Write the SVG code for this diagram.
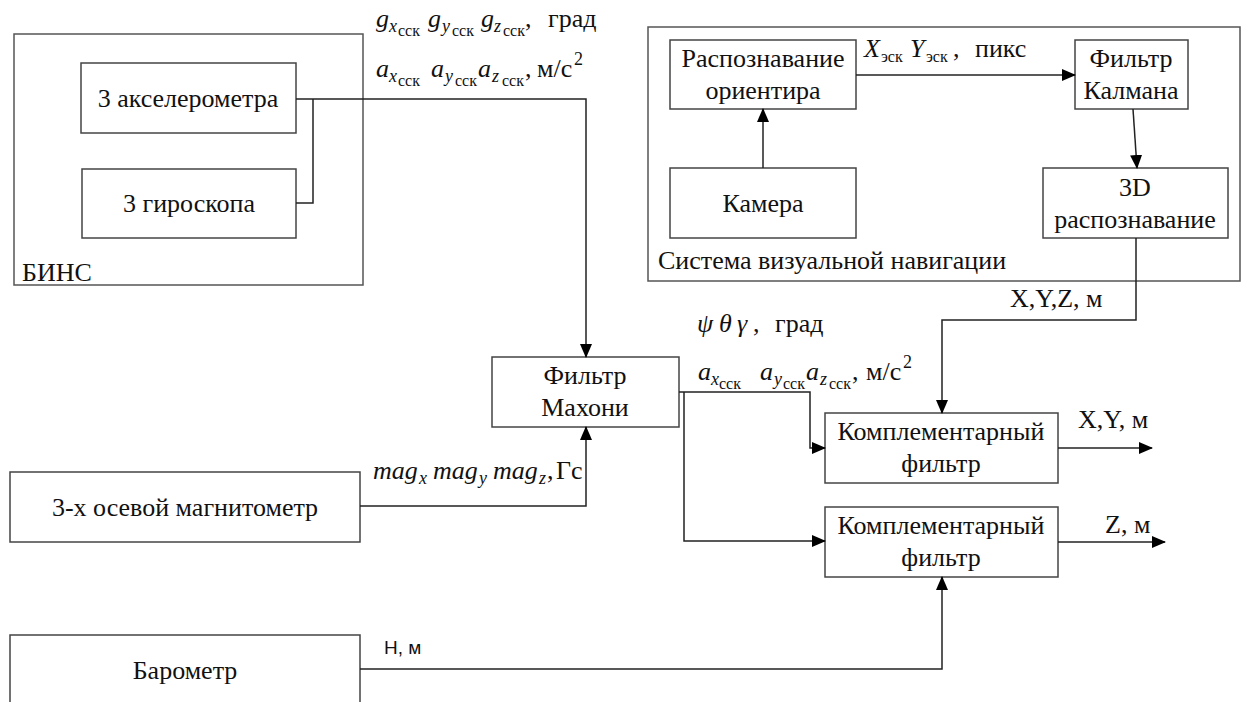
<svg xmlns="http://www.w3.org/2000/svg" width="1248" height="702" viewBox="0 0 1248 702">
<style>
.box{fill:#fff;stroke:#444;stroke-width:1.5}
.frame{fill:none;stroke:#555;stroke-width:1.5}
.t{font-size:26px;fill:#111;text-anchor:middle}
.tl{font-size:26px;fill:#111}
.m{font-size:26px;fill:#111;font-style:italic}
.s1{font-size:18px}
.s2{font-size:16px;font-style:normal}
.u{font-style:normal}
.c{fill:none;stroke:#222;stroke-width:1.5}
.h{font-size:19px;fill:#111}
</style>
<defs>
<marker id="ar" markerWidth="14" markerHeight="12" refX="13" refY="6" orient="auto" markerUnits="userSpaceOnUse">
<path d="M0,0 L14,6 L0,12 Z" fill="#000"/>
</marker>
</defs>

<g font-family="Liberation Serif, serif">
<g id="bins">
<rect class="frame" x="14" y="34" width="349" height="251"/>
<text class="tl" x="22" y="281">БИНС</text>
</g>
<g id="accel">
<rect class="box" x="81" y="63" width="215" height="70"/>
<text class="t" x="188" y="107">3 акселерометра</text>
</g>
<g id="gyro">
<rect class="box" x="82" y="169" width="214" height="69"/>
<text class="t" x="189" y="212">3 гироскопа</text>
</g>

<g id="vns">
<rect class="frame" x="648" y="27" width="592" height="254"/>
<text class="tl" x="658" y="269">Система визуальной навигации</text>
</g>
<g id="recog">
<rect class="box" x="670" y="40" width="186" height="69"/>
<text class="t" x="763" y="67">Распознавание</text>
<text class="t" x="763" y="99">ориентира</text>
</g>
<g id="kalman">
<rect class="box" x="1075" y="40" width="113" height="69"/>
<text class="t" x="1131" y="67">Фильтр</text>
<text class="t" x="1131" y="99">Калмана</text>
</g>
<g id="camera">
<rect class="box" x="670" y="168" width="186" height="70"/>
<text class="t" x="763" y="212">Камера</text>
</g>
<g id="rec3d">
<rect class="box" x="1043" y="168" width="185" height="70"/>
<text class="t" x="1135" y="196">3D</text>
<text class="t" x="1135" y="228">распознавание</text>
</g>

<g id="mahony">
<rect class="box" x="492" y="357" width="187" height="70"/>
<text class="t" x="585" y="384">Фильтр</text>
<text class="t" x="585" y="416">Махони</text>
</g>
<g id="mag">
<rect class="box" x="10" y="472" width="350" height="70"/>
<text class="t" x="185" y="516">3-х осевой магнитометр</text>
</g>
<g id="baro">
<rect class="box" x="10" y="635" width="350" height="100"/>
<text class="t" x="185" y="679">Барометр</text>
</g>
<g id="comp1">
<rect class="box" x="825" y="413" width="233" height="70"/>
<text class="t" x="941" y="440">Комплементарный</text>
<text class="t" x="941" y="472">фильтр</text>
</g>
<g id="comp2">
<rect class="box" x="825" y="507" width="233" height="70"/>
<text class="t" x="941" y="534">Комплементарный</text>
<text class="t" x="941" y="566">фильтр</text>
</g>
</g>

<g id="connectors">
<path class="c" d="M296,99 H586 V357" marker-end="url(#ar)"/>
<path class="c" d="M296,203 H313 V99"/>
<path class="c" d="M360,506 H586 V427" marker-end="url(#ar)"/>
<path class="c" d="M679,392 H810 V448 H825" marker-end="url(#ar)"/>
<path class="c" d="M684,392 V541 H825" marker-end="url(#ar)"/>
<path class="c" d="M360,669 H942 V577" marker-end="url(#ar)"/>
<path class="c" d="M1136,238 V320 H942 V413" marker-end="url(#ar)"/>
<path class="c" d="M1058,448 H1152" marker-end="url(#ar)"/>
<path class="c" d="M1058,542 H1165" marker-end="url(#ar)"/>
<path class="c" d="M763,168 V109" marker-end="url(#ar)"/>
<path class="c" d="M856,75 H1075" marker-end="url(#ar)"/>
<path class="c" d="M1133,109 L1137,168" marker-end="url(#ar)"/>
</g>

<g id="labels" font-family="Liberation Serif, serif">
<text class="m" y="27"><tspan x="376">g</tspan><tspan class="s1" x="389" y="32">x</tspan><tspan class="s2" x="398" y="36">сск</tspan><tspan x="428" y="27">g</tspan><tspan class="s1" x="442" y="32">y</tspan><tspan class="s2" x="452" y="36">сск</tspan><tspan x="481" y="27">g</tspan><tspan class="s1" x="494" y="32">z</tspan><tspan class="s2" x="503" y="36">сск</tspan><tspan class="u" x="525" y="27">,</tspan><tspan class="u" x="548">град</tspan></text>
<text class="m" y="77"><tspan x="376">a</tspan><tspan class="s1" x="389" y="82">x</tspan><tspan class="s2" x="398" y="86">сск</tspan><tspan x="431" y="77">a</tspan><tspan class="s1" x="445" y="82">y</tspan><tspan class="s2" x="455" y="86">сск</tspan><tspan x="478" y="77">a</tspan><tspan class="s1" x="492" y="82">z</tspan><tspan class="s2" x="502" y="86">сск</tspan><tspan class="u" x="525" y="77">,</tspan><tspan class="u" x="537">м/с</tspan><tspan class="u" font-size="18" x="574" y="65">2</tspan></text>
<text class="m" y="57"><tspan x="864">X</tspan><tspan class="s2" x="881" y="62">эск</tspan><tspan x="910" y="57">Y</tspan><tspan class="s2" x="926" y="62">эск</tspan><tspan class="u" x="953" y="57">,</tspan><tspan class="u" x="975">пикс</tspan></text>
<text class="m" y="332"><tspan x="697">ψ</tspan><tspan x="719">θ</tspan><tspan x="737">γ</tspan><tspan class="u" x="753">,</tspan><tspan class="u" x="775">град</tspan></text>
<text class="m" y="380"><tspan x="698">a</tspan><tspan class="s1" x="711" y="385">x</tspan><tspan class="s2" x="719" y="389">сск</tspan><tspan x="760" y="380">a</tspan><tspan class="s1" x="774" y="385">y</tspan><tspan class="s2" x="783" y="389">сск</tspan><tspan x="806" y="380">a</tspan><tspan class="s1" x="820" y="385">z</tspan><tspan class="s2" x="829" y="389">сск</tspan><tspan class="u" x="852" y="380">,</tspan><tspan class="u" x="866">м/с</tspan><tspan class="u" font-size="18" x="903" y="368">2</tspan></text>
<text class="m" y="479" font-size="24"><tspan x="373">mag</tspan><tspan class="s1" x="419" y="484">x</tspan><tspan x="433" y="479">mag</tspan><tspan class="s1" x="479" y="484">y</tspan><tspan x="493" y="479">mag</tspan><tspan class="s1" x="539" y="484">z</tspan><tspan class="u" x="547" y="479">,</tspan><tspan class="u" x="556" font-size="26">Гс</tspan></text>
<text class="tl" x="1010" y="307">X,Y,Z, м</text>
<text class="tl" x="1078" y="428">X,Y, м</text>
<text class="tl" x="1105" y="533">Z, м</text>
<text class="h" x="384" y="654" font-family="Liberation Sans, sans-serif">H, м</text>
</g>
</svg>
